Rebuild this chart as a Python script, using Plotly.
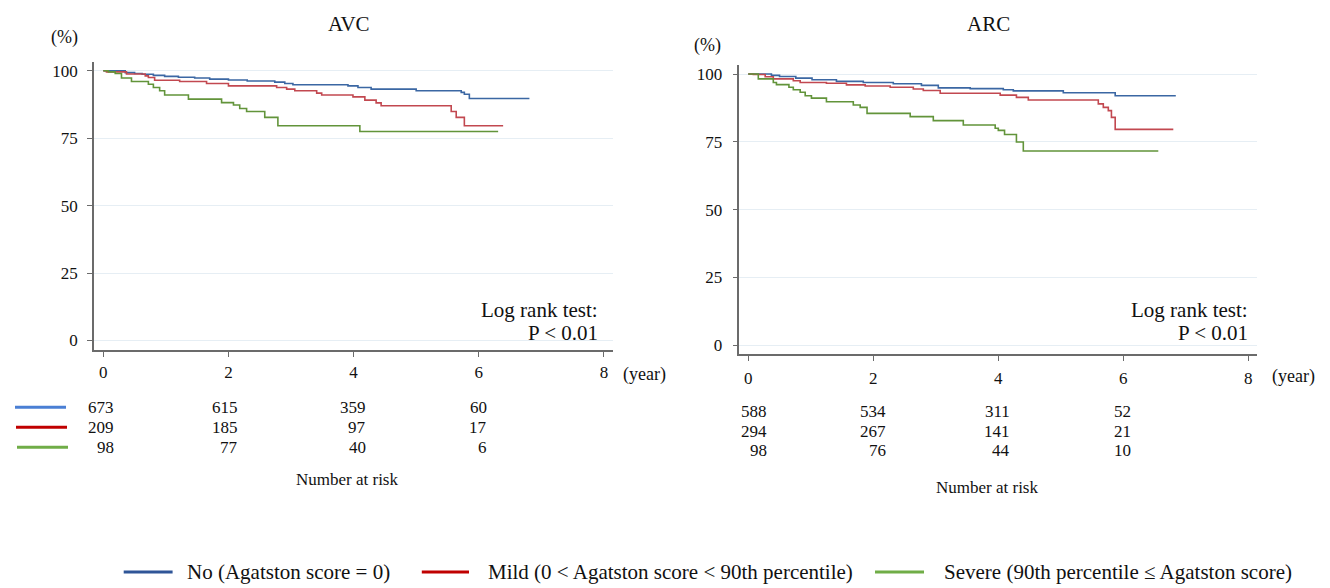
import plotly.graph_objects as go

# ---------------- data ----------------
groups = ["No (Agatston score = 0)",
          "Mild (0 < Agatston score < 90th percentile)",
          "Severe (90th percentile \u2264 Agatston score)"]

# AVC panel, Kaplan-Meier step points (years, %)
avc_no_t = [0, 0.35, 0.5, 0.62, 0.8, 0.98, 1.2, 1.46, 1.7, 2.0, 2.3, 2.74, 2.9, 3.03, 3.91, 4.07, 4.28, 5.0, 5.72, 5.77, 5.85, 6.81]
avc_no_s = [100, 99.3, 99.0, 98.7, 98.3, 97.9, 97.6, 97.3, 96.9, 96.6, 96.2, 95.8, 95.3, 94.8, 94.4, 93.8, 93.2, 92.6, 92.0, 91.3, 89.7, 89.7]
avc_mild_t = [0, 0.05, 0.37, 0.67, 0.72, 0.82, 1.22, 1.65, 2.0, 2.77, 2.93, 3.06, 3.41, 3.49, 3.99, 4.18, 4.36, 4.44, 5.56, 5.64, 5.77, 6.39]
avc_mild_s = [100, 99.6, 98.8, 98.1, 97.5, 96.5, 96.0, 95.3, 94.4, 93.8, 93.2, 92.6, 91.7, 91.0, 90.3, 89.1, 88.1, 87.0, 84.9, 82.7, 79.6, 79.6]
avc_sev_t = [0, 0.08, 0.19, 0.29, 0.45, 0.72, 0.8, 0.9, 0.98, 1.36, 1.89, 2.08, 2.18, 2.29, 2.58, 2.79, 4.1, 6.31]
avc_sev_s = [100, 99.6, 99.0, 97.3, 96.0, 95.0, 93.8, 92.6, 91.0, 89.5, 88.2, 87.3, 86.0, 84.9, 82.7, 79.6, 77.5, 77.5]

# ARC panel
arc_no_t = [0, 0.37, 0.5, 0.76, 1.02, 1.41, 1.84, 2.32, 2.77, 3.04, 3.55, 4.08, 4.24, 5.04, 5.87, 6.84]
arc_no_s = [100, 99.5, 99.1, 98.5, 97.9, 97.3, 96.9, 96.4, 95.8, 94.9, 94.6, 94.2, 93.8, 93.1, 92.0, 92.0]
arc_mild_t = [0, 0.08, 0.27, 0.4, 0.72, 0.83, 1.25, 1.57, 1.87, 2.27, 2.64, 2.8, 3.07, 4.03, 4.29, 4.48, 5.6, 5.68, 5.76, 5.81, 5.87, 6.8]
arc_mild_s = [100, 99.8, 99.0, 98.2, 97.5, 96.9, 96.6, 96.0, 95.6, 95.1, 94.5, 93.9, 92.9, 92.2, 91.4, 90.4, 89.0, 87.7, 86.5, 84.0, 79.6, 79.6]
arc_sev_t = [0, 0.16, 0.4, 0.45, 0.65, 0.72, 0.83, 0.91, 1.01, 1.25, 1.68, 1.79, 1.9, 2.59, 2.96, 3.44, 3.95, 4.0, 4.1, 4.29, 4.4, 6.56]
arc_sev_s = [100, 98.2, 96.9, 96.1, 95.1, 94.2, 93.3, 92.0, 91.1, 89.8, 88.6, 87.7, 85.5, 84.3, 82.8, 81.2, 80.0, 79.2, 77.7, 74.9, 71.6, 71.6]

risk_times = [0, 2, 4, 6]
avc_risk_no = [673, 615, 359, 60]
avc_risk_mild = [209, 185, 97, 17]
avc_risk_sev = [98, 77, 40, 6]
arc_risk_no = [588, 534, 311, 52]
arc_risk_mild = [294, 267, 141, 21]
arc_risk_sev = [98, 76, 44, 10]

x_ticks = [0, 2, 4, 6, 8]
y_ticks = [0, 25, 50, 75, 100]

# ---------------- styling ----------------
W, H = 1330, 588
FONT = "Liberation Serif"
curve_colors = ["#3b67a3", "#c24850", "#62943a"]
risk_colors = ["#4a7fd4", "#c00000", "#70ad47"]
legend_colors = ["#2f5597", "#c00000", "#70ad47"]


def px(x):
    return x / W


def py(y):
    return 1 - y / H


fig = go.Figure()

panels = [
    ("x", "y", [(avc_no_t, avc_no_s), (avc_mild_t, avc_mild_s), (avc_sev_t, avc_sev_s)]),
    ("x2", "y2", [(arc_no_t, arc_no_s), (arc_mild_t, arc_mild_s), (arc_sev_t, arc_sev_s)]),
]
for xa, ya, series in panels:
    for i, (t, s) in enumerate(series):
        fig.add_trace(go.Scatter(
            x=t, y=s, mode="lines", line=dict(color=curve_colors[i], width=1.6, shape="hv"),
            name=groups[i], xaxis=xa, yaxis=ya, showlegend=False, hoverinfo="skip"))

axis_common = dict(
    showline=True, linecolor="#6b6b6b", linewidth=1.5,
    ticks="outside", ticklen=5, tickwidth=1, tickcolor="#6b6b6b",
    tickfont=dict(family=FONT, size=17, color="#111"),
    zeroline=False,
)

fig.update_layout(
    width=W, height=H,
    margin=dict(l=0, r=0, t=0, b=0),
    paper_bgcolor="white", plot_bgcolor="white",
    showlegend=False,
    font=dict(family=FONT, color="#111"),
    xaxis=dict(domain=[px(94), px(612.7)], range=[-0.149, 8.141], tickvals=x_ticks,
               showgrid=False, anchor="y", ticklabelstandoff=1, **axis_common),
    yaxis=dict(domain=[py(350), py(61.6)], range=[-3.44, 103.1], tickvals=y_ticks,
               showgrid=True, gridcolor="#e6eef4", gridwidth=1, anchor="x",
               ticklabelstandoff=6, **axis_common),
    xaxis2=dict(domain=[px(739.3), px(1256.8)], range=[-0.144, 8.136], tickvals=x_ticks,
                showgrid=False, anchor="y2", ticklabelstandoff=3, **axis_common),
    yaxis2=dict(domain=[py(354), py(64.3)], range=[-3.2, 103.3], tickvals=y_ticks,
                showgrid=True, gridcolor="#e6eef4", gridwidth=1, anchor="x2",
                ticklabelstandoff=7, **axis_common),
)

ann = []


def text(x, y, s, size, xanchor="center", xref="paper", xshift=0):
    ann.append(dict(x=x, y=py(y), xref=xref, yref="paper", text=s, showarrow=False,
                    xanchor=xanchor, yanchor="middle", xshift=xshift,
                    font=dict(family=FONT, size=size, color="#111")))


# titles and axis unit labels
text(px(348.5), 22.7, "AVC", 21)
text(px(988.3), 22.7, "ARC", 21)
text(px(64), 36.7, "(%)", 18)
text(px(707.4), 45, "(%)", 18)
text(px(644), 375, "(year)", 18)
text(px(1293), 377, "(year)", 18)

# log rank annotations
text(px(600), 310, "Log rank test:", 21, xanchor="right")
text(px(600), 333.5, "P < 0.01", 21, xanchor="right")
text(px(1250), 310, "Log rank test:", 21, xanchor="right")
text(px(1250), 333.5, "P < 0.01", 21, xanchor="right")

# number at risk tables
avc_rows = [avc_risk_no, avc_risk_mild, avc_risk_sev]
arc_rows = [arc_risk_no, arc_risk_mild, arc_risk_sev]
avc_row_y = [407.7, 427.7, 447.7]
arc_row_y = [411.5, 431.5, 451.5]
avc_shift = [13, 12, 14, 10]
arc_shift = [21, 15, 14, 10]
for r, row in enumerate(avc_rows):
    for c, v in enumerate(row):
        text(risk_times[c], avc_row_y[r], str(v), 17, xanchor="right", xref="x", xshift=avc_shift[c])
for r, row in enumerate(arc_rows):
    for c, v in enumerate(row):
        text(risk_times[c], arc_row_y[r], str(v), 17, xanchor="right", xref="x2", xshift=arc_shift[c])
text(px(347), 480, "Number at risk", 17)
text(px(987), 488, "Number at risk", 17)

shapes = []
for r in range(3):
    shapes.append(dict(type="line", xref="paper", yref="paper",
                       x0=px(15 + r), x1=px(66 + r), y0=py(avc_row_y[r]), y1=py(avc_row_y[r]),
                       line=dict(color=risk_colors[r], width=3)))

# bottom legend
leg_line_x = [(123.7, 172.6), (421.8, 469), (875, 924)]
leg_text_x = [185, 486, 942]
leg_y = 573
for i in range(3):
    shapes.append(dict(type="line", xref="paper", yref="paper",
                       x0=px(leg_line_x[i][0]), x1=px(leg_line_x[i][1]), y0=py(leg_y), y1=py(leg_y),
                       line=dict(color=legend_colors[i], width=3)))
    text(px(leg_text_x[i]), leg_y, groups[i], 21, xanchor="left")

fig.update_layout(annotations=ann, shapes=shapes)

fig.write_html("out.html", config={"displayModeBar": False},
               post_script="document.body.style.margin='0';")
